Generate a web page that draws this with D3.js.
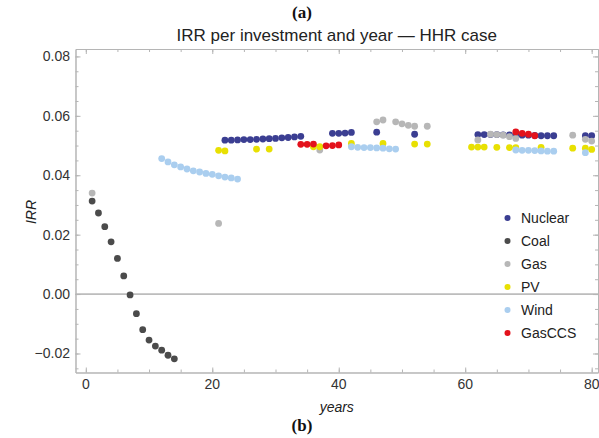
<!DOCTYPE html>
<html><head><meta charset="utf-8">
<script src="https://cdn.jsdelivr.net/npm/d3@7"></script>
<style>body{margin:0;background:#fff;} svg{display:block;}</style>
</head><body>
<script>
// ---- data ----
const seriesNames = ["Nuclear","Coal","Gas","PV","Wind","GasCCS"];
const seriesColors = ["#3b3e92","#4b4b4b","#b7b7b7","#e8e002","#aaceef","#e3121c"];

const nuclearYears = [22,23,24,25,26,27,28,29,30,31,32,33,34,39,40,41,42,46,52,62,63,64,65,66,67,68,69,70,71,72,73,74,79,80];
const nuclearIRR = [0.0518,0.0518,0.0519,0.0520,0.0520,0.0521,0.0522,0.0523,0.0524,0.0526,0.0527,0.0529,0.0531,
  0.0541,0.0541,0.0542,0.0544,0.0545,0.0538,
  0.0537,0.0537,0.0537,0.0537,0.0536,0.0536,0.0535,0.0535,0.0535,0.0534,0.0533,0.0533,0.0533,0.0533,0.0533];

const coalYears = [1,2,3,4,5,6,7,8,9,10,11,12,13,14];
const coalIRR = [0.0313,0.0273,0.0227,0.0176,0.0120,0.0061,-0.0003,-0.0066,-0.0120,-0.0155,-0.0175,-0.0189,-0.0206,-0.0218];

const gasYears = [1,21,37,46,47,49,50,51,52,54,62,64,65,66,67,68,77,79,80];
const gasIRR = [0.0340,0.0238,0.0485,0.0580,0.0586,0.0580,0.0573,0.0568,0.0565,0.0565,0.0519,0.0538,0.0537,0.0535,0.0530,0.0524,0.0535,0.0521,0.0515];

const pvYears = [21,22,27,29,36,37,42,47,52,54,61,62,63,65,67,68,72,77,79,80];
const pvIRR = [0.0484,0.0482,0.0488,0.0488,0.0496,0.0496,0.0507,0.0507,0.0505,0.0505,0.0495,0.0495,0.0495,0.0494,0.0493,0.0493,0.0494,0.0491,0.0491,0.0487];

const windYears = [12,13,14,15,16,17,18,19,20,21,22,23,24,42,43,44,45,46,47,48,49,68,69,70,71,72,73,74,79];
const windIRR = [0.0456,0.0445,0.0435,0.0428,0.0421,0.0415,0.0411,0.0406,0.0403,0.0398,0.0394,0.0391,0.0387,
  0.0496,0.0494,0.0493,0.0493,0.0492,0.0491,0.0489,0.0488,
  0.0485,0.0484,0.0484,0.0483,0.0482,0.0481,0.0481,0.0476];

const gasccsYears = [34,35,36,38,39,40,68,69,70,71];
const gasccsIRR = [0.0504,0.0504,0.0505,0.0499,0.0500,0.0502,0.0546,0.0541,0.0538,0.0533];

const xTickValues = [0,20,40,60,80];
const yTickValues = [-0.02,0,0.02,0.04,0.06,0.08];
const yTickLabels = ["\u22120.02","0.00","0.02","0.04","0.06","0.08"];
const titleText = "IRR per investment and year \u2014 HHR case";

// ---- build ----
const series = [
  {name:"Nuclear", years:nuclearYears, vals:nuclearIRR},
  {name:"Coal", years:coalYears, vals:coalIRR},
  {name:"Gas", years:gasYears, vals:gasIRR},
  {name:"PV", years:pvYears, vals:pvIRR},
  {name:"Wind", years:windYears, vals:windIRR},
  {name:"GasCCS", years:gasccsYears, vals:gasccsIRR}
];
const color = d3.scaleOrdinal().domain(seriesNames).range(seriesColors);

const W=599, H=438;
const L=75.5, R=598, T=49, B=372.5;
const x = d3.scaleLinear().domain([-1.63, 81.0]).range([L, R]);
const y = d3.scaleLinear().domain([-0.0264, 0.0825]).range([B, T]);

const svg = d3.select("body").append("svg").attr("width",W).attr("height",H)
  .style("font-family","'Liberation Sans', Arial, sans-serif");

const frameColor = "#b5b5b5";
const labelColor = "#333";

// zero line
svg.append("line").attr("x1",L).attr("x2",R).attr("y1",y(0)).attr("y2",y(0))
  .attr("stroke","#8a8a8a").attr("stroke-width",1);

// axes (ticks inward)
const xMinor = d3.range(0, 81, 5);
const yMinor = d3.range(-0.025, 0.0826, 0.005).map(v=>+v.toFixed(3));

function axisG(axis, tr){ const g = svg.append("g").attr("transform",tr).call(axis);
  g.select(".domain").attr("stroke",frameColor);
  g.selectAll(".tick line").attr("stroke",frameColor);
  g.selectAll("text").remove(); return g; }

axisG(d3.axisBottom(x).tickValues(xMinor).tickSize(-3).tickSizeOuter(0), `translate(0,${B})`);
axisG(d3.axisBottom(x).tickValues(xTickValues).tickSize(-5).tickSizeOuter(0), `translate(0,${B})`);
axisG(d3.axisTop(x).tickValues(xMinor).tickSize(-3).tickSizeOuter(0), `translate(0,${T})`);
axisG(d3.axisTop(x).tickValues(xTickValues).tickSize(-5).tickSizeOuter(0), `translate(0,${T})`);
axisG(d3.axisLeft(y).tickValues(yMinor).tickSize(-3).tickSizeOuter(0), `translate(${L},0)`);
axisG(d3.axisLeft(y).tickValues(yTickValues).tickSize(-5).tickSizeOuter(0), `translate(${L},0)`);
axisG(d3.axisRight(y).tickValues(yMinor).tickSize(-3).tickSizeOuter(0), `translate(${R},0)`);
axisG(d3.axisRight(y).tickValues(yTickValues).tickSize(-5).tickSizeOuter(0), `translate(${R},0)`);

// tick labels
svg.append("g").selectAll("text").data(xTickValues).join("text")
  .attr("x",d=>x(d)).attr("y",389).attr("text-anchor","middle")
  .attr("font-size",14).attr("fill",labelColor).text(d=>d);
svg.append("g").selectAll("text").data(yTickValues).join("text")
  .attr("x",70).attr("y",d=>y(d)).attr("dy","0.35em").attr("text-anchor","end")
  .attr("font-size",14).attr("fill",labelColor).text((d,i)=>yTickLabels[i]);

// points
series.forEach(s=>{
  svg.append("g").selectAll("circle").data(s.years.map((yr,i)=>({yr, v:s.vals[i]}))).join("circle")
    .attr("cx",d=>x(d.yr)).attr("cy",d=>y(d.v)).attr("r",3.4).attr("fill",color(s.name));
});

// legend
const lg = svg.append("g");
seriesNames.forEach((n,i)=>{
  const yy = 218 + i*23;
  lg.append("circle").attr("cx",507.5).attr("cy",yy).attr("r",3).attr("fill",color(n));
  lg.append("text").attr("x",521).attr("y",yy).attr("dy","0.35em").attr("font-size",14)
    .attr("fill","#222").text(n);
});

// titles
svg.append("text").attr("x",(L+R)/2).attr("y",41).attr("text-anchor","middle")
  .attr("font-size",17).attr("fill","#222").text(titleText);
svg.append("text").attr("x",302).attr("y",18).attr("text-anchor","middle")
  .attr("font-family","'Liberation Serif', 'Times New Roman', serif").attr("font-weight","bold")
  .attr("font-size",17).attr("fill","#111").text("(a)");
svg.append("text").attr("x",302).attr("y",431).attr("text-anchor","middle")
  .attr("font-family","'Liberation Serif', 'Times New Roman', serif").attr("font-weight","bold")
  .attr("font-size",17).attr("fill","#111").text("(b)");
svg.append("text").attr("x",(L+R)/2).attr("y",412).attr("text-anchor","middle")
  .attr("font-size",14).attr("font-style","italic").attr("fill","#222").text("years");
svg.append("text").attr("transform",`translate(36,212) rotate(-90)`).attr("text-anchor","middle")
  .attr("font-size",14).attr("font-style","italic").attr("fill","#222").text("IRR");
</script>
</body></html>
